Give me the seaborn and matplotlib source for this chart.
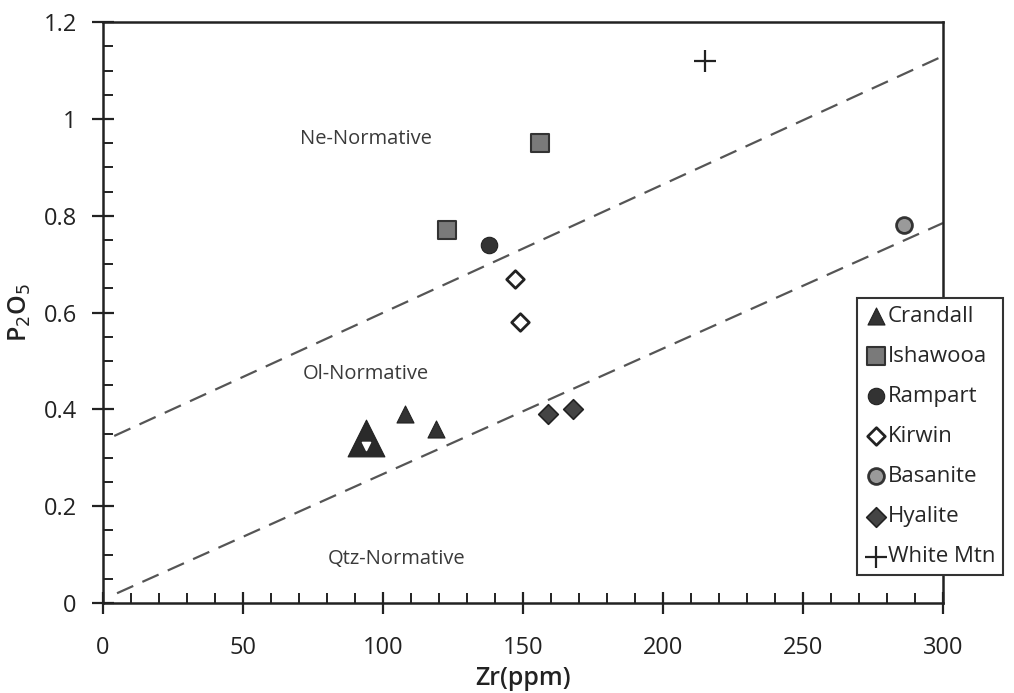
import numpy as np
import pandas as pd
import matplotlib
matplotlib.use("Agg")
import matplotlib.pyplot as plt
from matplotlib.ticker import MultipleLocator
import seaborn as sns

# Zr (ppm) and P2O5 (wt%) by suite
crandall_zr = [94, 108, 119]
crandall_p = [0.34, 0.39, 0.36]
ishawooa_zr = [123, 156]
ishawooa_p = [0.77, 0.95]
rampart_zr = [138]
rampart_p = [0.74]
kirwin_zr = [147, 149]
kirwin_p = [0.67, 0.58]
basanite_zr = [286]
basanite_p = [0.78]
hyalite_zr = [159, 168]
hyalite_p = [0.39, 0.40]
whitemtn_zr = [215]
whitemtn_p = [1.12]

# Normative boundary lines (Zr endpoints, P2O5 endpoints)
upper_zr = [4, 300]
upper_p = [0.345, 1.13]
lower_zr = [5, 300]
lower_p = [0.02, 0.785]

suites = ["Crandall", "Ishawooa", "Rampart", "Kirwin", "Basanite", "Hyalite", "White Mtn"]
zr_sets = [crandall_zr, ishawooa_zr, rampart_zr, kirwin_zr, basanite_zr, hyalite_zr, whitemtn_zr]
p_sets = [crandall_p, ishawooa_p, rampart_p, kirwin_p, basanite_p, hyalite_p, whitemtn_p]

df = pd.DataFrame({
    "Zr": sum(zr_sets, []),
    "P2O5": sum(p_sets, []),
    "Suite": sum([[s] * len(z) for s, z in zip(suites, zr_sets)], []),
})

sns.set_style("ticks")
plt.rcParams["font.family"] = ["Open Sans", "DejaVu Sans"]

fig = plt.figure(figsize=(10.14, 6.93), dpi=100)
ax = fig.add_axes([0.1016, 0.130, 0.8284, 0.838])

styles = {
    "Crandall": dict(marker="^", s=150, color="#333333", edgecolor="#222222", linewidth=0.8),
    "Ishawooa": dict(marker="s", s=150, color="#7a7a7a", edgecolor="#333333", linewidth=1.5),
    "Rampart": dict(marker="o", s=140, color="#333333", edgecolor="#222222", linewidth=0.8),
    "Kirwin": dict(marker="D", s=80, color="white", edgecolor="#222222", linewidth=2.0),
    "Basanite": dict(marker="o", s=130, color="#9a9a9a", edgecolor="#333333", linewidth=2.0),
    "Hyalite": dict(marker="D", s=100, color="#444444", edgecolor="#222222", linewidth=1.2),
    "White Mtn": dict(marker="+", s=260, color="#222222", linewidth=1.6),
}

for s in suites:
    sub = df[df["Suite"] == s]
    sns.scatterplot(data=sub, x="Zr", y="P2O5", ax=ax, label=s, zorder=3, **styles[s])

# the Crandall sample near 94 ppm is drawn larger (several overlapping analyses)
big = df[(df["Suite"] == "Crandall") & (df["Zr"] < 100)]
sns.scatterplot(data=big, x="Zr", y="P2O5", ax=ax, marker="^", s=700, color="#2a2a2a",
                edgecolor="#222222", linewidth=0.8, zorder=3, legend=False)
ax.scatter(big["Zr"], big["P2O5"] - 0.015, marker="v", s=35, color="white", zorder=4)

dash = (0, (8, 4.5))
sns.lineplot(x=upper_zr, y=upper_p, ax=ax, color="#555555", linestyle=dash, linewidth=1.6, zorder=2)
sns.lineplot(x=lower_zr, y=lower_p, ax=ax, color="#555555", linestyle=dash, linewidth=1.6, zorder=2)

ax.text(94, 0.958, "Ne-Normative", ha="center", va="center", fontsize=14.5, color="#3a3a3a")
ax.text(94, 0.474, "Ol-Normative", ha="center", va="center", fontsize=14.5, color="#3a3a3a")
ax.text(105, 0.09, "Qtz-Normative", ha="center", va="center", fontsize=14.5, color="#3a3a3a")

ax.set_xlim(0, 300)
ax.set_ylim(0, 1.2)
ax.xaxis.set_minor_locator(MultipleLocator(10))
ax.yaxis.set_minor_locator(MultipleLocator(0.05))
ax.set_xticks(np.arange(0, 301, 50))
ax.set_xticklabels(["0", "50", "100", "150", "200", "250", "300"])
ax.set_yticks([0, 0.2, 0.4, 0.6, 0.8, 1.0, 1.2])
ax.set_yticklabels(["0", "0.2", "0.4", "0.6", "0.8", "1", "1.2"])
ax.tick_params(which="major", direction="inout", length=16, width=1.6, labelsize=17, colors="#222222")
ax.tick_params(axis="x", which="major", pad=16)
ax.tick_params(axis="y", which="major", pad=11)
ax.tick_params(which="minor", direction="in", length=7, width=1.4, colors="#222222")
for sp in ax.spines.values():
    sp.set_linewidth(1.8)
    sp.set_color("#222222")

ax.set_xlabel("Zr(ppm)", fontsize=18, color="#222222", labelpad=4, fontweight="semibold")
ax.set_ylabel("P$_2$O$_5$", fontsize=18, color="#222222", fontweight="semibold")
ax.yaxis.set_label_coords(-0.083, 0.5)

leg = ax.legend(loc="upper left", bbox_to_anchor=(0.8976, 0.525), frameon=True, fontsize=16,
                handletextpad=0.05, borderpad=0.35, labelspacing=0.86, handlelength=1.0,
                borderaxespad=0, fancybox=False, edgecolor="#333333", framealpha=1,
                markerscale=1.0)
leg.get_frame().set_linewidth(1.5)

fig.savefig("out.png", dpi=100)
